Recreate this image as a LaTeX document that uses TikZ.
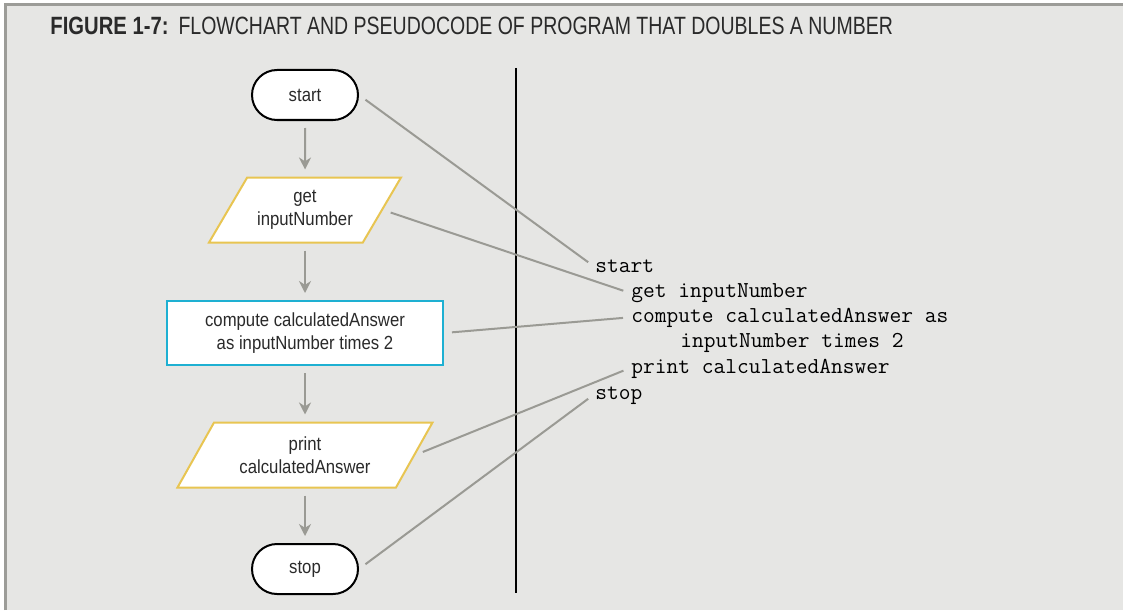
\documentclass[tikz,border=0pt]{standalone}
\usepackage{fontspec}
\setmainfont{Liberation Sans}
\newfontfamily\condfont[FakeStretch=0.88]{Liberation Sans}
\newfontfamily\headfont[FakeStretch=0.81]{Liberation Sans}
\newfontfamily\headlight[FakeStretch=0.78]{Liberation Sans}
\usetikzlibrary{shapes.geometric,arrows.meta}
\definecolor{bgcol}{HTML}{E6E6E4}
\definecolor{framecol}{HTML}{9C9C98}
\definecolor{arrowcol}{HTML}{9A9A94}
\definecolor{iocol}{HTML}{E8C552}
\definecolor{proccol}{HTML}{1EB0D2}
\definecolor{titlecol}{HTML}{2A2A2A}
\begin{document}
\begin{tikzpicture}[x=0.5pt, y=-0.5pt,
  boxfont/.style={font=\condfont\fontsize{9.5}{11.5}\selectfont, text=titlecol},
  terminal/.style={boxfont, draw=black, line width=1pt, fill=white, rounded corners=12.5pt, minimum width=53pt, minimum height=25pt},
  inout/.style={boxfont, trapezium, trapezium left angle=54, trapezium right angle=126, trapezium stretches body, draw=iocol, line width=1pt, fill=white, minimum height=32.5pt, align=center},
  process/.style={boxfont, rectangle, draw=proccol, line width=1pt, fill=white, minimum width=138pt, minimum height=32pt, align=center},
  flow/.style={draw=arrowcol, line width=1pt, -{Stealth[length=6pt,width=6pt]}, shorten <=3.5pt, shorten >=3.5pt},
  link/.style={draw=arrowcol, line width=1pt, shorten <=4pt, shorten >=3pt},
  code/.style={anchor=base west, inner sep=1pt, font=\ttfamily\fontsize{11.4}{13}\selectfont, text=black}]
\useasboundingbox (0,0) rectangle (1123,610);
\fill[bgcol] (5,5) rectangle (1123,610);
\draw[framecol, line width=1.5pt] (5,610) -- (5,5) -- (1123,5);
\node[anchor=base west, inner sep=0, text=titlecol, font=\fontsize{12.5}{14}\selectfont] (title) at (50,35) {{\headfont\bfseries FIGURE 1-7:}\hspace{5pt}{\headlight FLOWCHART AND PSEUDOCODE OF PROGRAM THAT DOUBLES A NUMBER}};
\node[terminal] (start) at (305,95) {start};
\node[inout, minimum width=96pt] (get) at (305,210) {get\\inputNumber};
\node[process] (compute) at (305,333) {compute calculatedAnswer\\as inputNumber times 2};
\node[inout, minimum width=127.5pt] (print) at (305,455) {print\\calculatedAnswer};
\node[terminal] (stop) at (305,569) {stop};
\draw[flow] (start) -- (get);
\draw[flow] (get) -- (compute);
\draw[flow] (compute) -- (print);
\draw[flow] (print) -- (stop);
\draw[line width=1pt] (516,68) -- (516,593);
\node[code] (pstart) at (593,272) {start};
\node[code] (pget) at (629,297) {get inputNumber};
\node[code] (pcompute) at (629,322) {compute calculatedAnswer as};
\node[code] (pcompute2) at (678,347) {inputNumber times 2};
\node[code] (pprint) at (629,373) {print calculatedAnswer};
\node[code] (pstop) at (593,399) {stop};
\draw[link] (start.east) -- (pstart.west);
\draw[link] (get.east) -- (pget.west);
\draw[link] (compute.east) -- (pcompute.west);
\draw[link] (print.east) -- (pprint.west);
\draw[link] (stop.east) -- (pstop.west);
\end{tikzpicture}
\end{document}
